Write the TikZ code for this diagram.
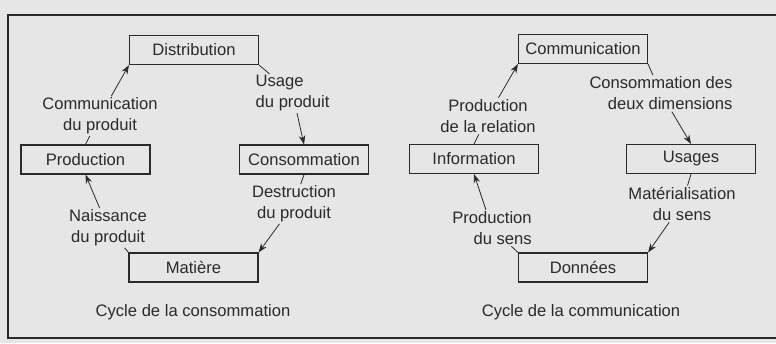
\documentclass[tikz,border=0pt]{standalone}
\usepackage{fontspec}
\setmainfont{Liberation Sans}
\usetikzlibrary{arrows.meta}
\definecolor{bgc}{HTML}{E6E6E6}
\definecolor{ink}{HTML}{2A2A2A}
\tikzset{
  box/.style={draw=ink, line width=1.1pt, fill=bgc, minimum width=129pt, minimum height=29pt, inner sep=0pt, text=ink, font=\fontsize{16.6}{20}\selectfont},
  lbl/.style={inner sep=1.5pt, text=ink, font=\fontsize{16.6}{21}\selectfont},
  captxt/.style={inner sep=0pt, text=ink, font=\fontsize{16.6}{20}\selectfont},
  conn/.style={draw=ink, line width=0.8pt, -{Stealth[length=9pt,width=6.5pt]}}
}
\begin{document}
\begin{tikzpicture}[x=1pt,y=-1pt]
\useasboundingbox (0,0) rectangle (776,343);
\clip (0,0) rectangle (776,343);
\fill[bgc] (0,0) rectangle (776,343);
\draw[ink, line width=1.2pt] (800,15) -- (8,15) -- (8,338) -- (800,338);

% left cycle
\node[box] (dist) at (194,50) {Distribution};
\node[box] (prod) at (85.5,159.5) {Production};
\node[box] (cons) at (304,159.5) {Consommation};
\node[box] (mat) at (193.5,267.5) {Matière};

\node[lbl, align=center] (l1) at (100,116) {Communication\\du produit};
\node[lbl, align=left, anchor=west] (l2) at (254,93.5) {Usage\\du produit};
\node[lbl, align=center] (l3) at (294,204) {Destruction\\du produit};
\node[lbl, align=center] (l4) at (108,228) {Naissance\\du produit};

\draw[conn] (prod.north) -- (l1) -- (dist.south west);
\draw[conn] (dist.south east) -- (l2) -- (cons.north);
\draw[conn] (cons.south) -- (l3) -- (mat.north east);
\draw[conn] (mat.north west) -- (l4) -- (prod.south);

\node[captxt] (c1) at (193,312) {Cycle de la consommation};

% right cycle
\node[box] (comm) at (583,49) {Communication};
\node[box] (info) at (474,159) {Information};
\node[box] (usag) at (691,159) {Usages};
\node[box] (donn) at (583,267.5) {Données};

\node[lbl, align=center] (r1) at (488,116) {Production\\de la relation};
\node[lbl, align=right] (r2) at (661,93.5) {Consommation des\\deux dimensions};
\node[lbl, align=center] (r3) at (682,204) {Matérialisation\\du sens};
\node[lbl, align=right] (r4) at (492,228) {Production\\du sens};

\draw[conn] (info.north) -- (r1) -- (comm.south west);
\draw[conn] (comm.south east) -- (r2) -- (usag.north);
\draw[conn] (usag.south) -- (r3) -- (donn.north east);
\draw[conn] (donn.north west) -- (r4) -- (info.south);

\node[captxt] (c2) at (581,312) {Cycle de la communication};
\end{tikzpicture}
\end{document}
